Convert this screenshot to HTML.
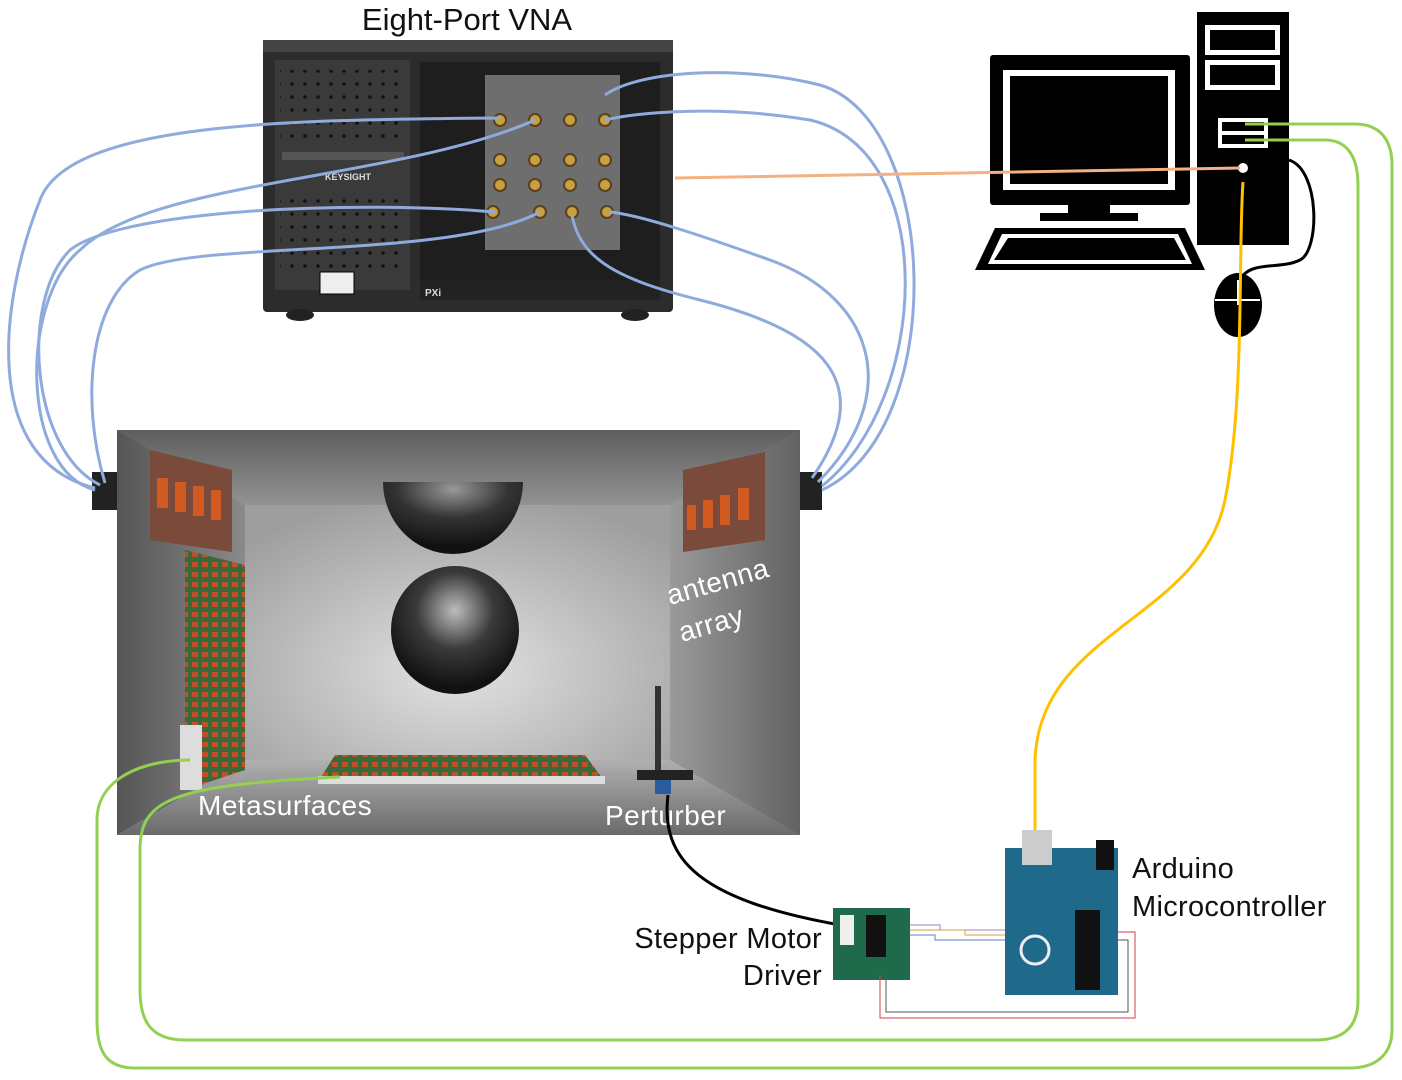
<!DOCTYPE html>
<html><head><meta charset="utf-8"><style>
html,body{margin:0;padding:0;background:#fff;}
svg{display:block;font-family:"Liberation Sans",sans-serif;}
</style></head><body>
<svg width="1402" height="1080" viewBox="0 0 1402 1080" xmlns="http://www.w3.org/2000/svg">
<defs>
<linearGradient id="ceil" x1="0" y1="0" x2="0" y2="1"><stop offset="0" stop-color="#5e5e5e"/><stop offset="1" stop-color="#929292"/></linearGradient>
<linearGradient id="lw" x1="0" y1="0" x2="1" y2="0"><stop offset="0" stop-color="#555"/><stop offset="1" stop-color="#8a8a8a"/></linearGradient>
<linearGradient id="rw" x1="1" y1="0" x2="0" y2="0"><stop offset="0" stop-color="#626262"/><stop offset="1" stop-color="#9a9a9a"/></linearGradient>
<linearGradient id="fl" x1="0" y1="0" x2="0" y2="1"><stop offset="0" stop-color="#b0b0b0"/><stop offset="1" stop-color="#6a6a6a"/></linearGradient>
<radialGradient id="bw" cx="0.5" cy="0.65" r="0.7"><stop offset="0" stop-color="#e2e2e2"/><stop offset="1" stop-color="#9e9e9e"/></radialGradient>
<radialGradient id="sph" cx="0.5" cy="0.35" r="0.6"><stop offset="0" stop-color="#bdbdbd"/><stop offset="0.5" stop-color="#3a3a3a"/><stop offset="1" stop-color="#111"/></radialGradient>
<radialGradient id="hem" cx="0.5" cy="0.1" r="0.8"><stop offset="0" stop-color="#999"/><stop offset="0.5" stop-color="#333"/><stop offset="1" stop-color="#111"/></radialGradient>
<pattern id="dots" width="13" height="13" patternUnits="userSpaceOnUse"><circle cx="6" cy="6" r="1.8" fill="#111"/></pattern>
<pattern id="cells" width="10" height="10" patternUnits="userSpaceOnUse"><rect width="10" height="10" fill="#3a6a3a"/><rect x="2" y="2" width="6" height="5" fill="#c0502a"/></pattern>
</defs>

<text x="467" y="30" font-size="31" text-anchor="middle" fill="#111">Eight-Port VNA</text>

<!-- VNA -->
<rect x="263" y="40" width="410" height="272" rx="4" fill="#2c2c2c"/>
<rect x="263" y="40" width="410" height="12" fill="#444"/>
<rect x="275" y="60" width="135" height="230" fill="#3a3a3a"/>
<rect x="280" y="70" width="125" height="75" fill="url(#dots)"/>
<rect x="280" y="190" width="125" height="85" fill="url(#dots)"/>
<rect x="282" y="152" width="122" height="8" fill="#555"/>
<text x="325" y="180" font-size="9" fill="#ddd" font-weight="bold">KEYSIGHT</text>
<rect x="320" y="272" width="34" height="22" fill="#eee" stroke="#000"/>
<rect x="420" y="62" width="240" height="238" fill="#1e1e1e"/>
<rect x="485" y="75" width="135" height="175" fill="#6e6e6e"/>
<rect x="420" y="280" width="240" height="20" fill="#222"/>
<text x="425" y="296" font-size="10" fill="#ddd" font-weight="bold">PXi</text>
<g fill="#c9a040" stroke="#5a4020" stroke-width="2">
<circle cx="500" cy="120" r="6"/><circle cx="535" cy="120" r="6"/><circle cx="570" cy="120" r="6"/><circle cx="605" cy="120" r="6"/>
<circle cx="500" cy="160" r="6"/><circle cx="535" cy="160" r="6"/><circle cx="570" cy="160" r="6"/><circle cx="605" cy="160" r="6"/>
<circle cx="500" cy="185" r="6"/><circle cx="535" cy="185" r="6"/><circle cx="570" cy="185" r="6"/><circle cx="605" cy="185" r="6"/>
<circle cx="493" cy="212" r="6"/><circle cx="540" cy="212" r="6"/><circle cx="572" cy="212" r="6"/><circle cx="607" cy="212" r="6"/>
</g>
<ellipse cx="300" cy="315" rx="14" ry="6" fill="#222"/><ellipse cx="635" cy="315" rx="14" ry="6" fill="#222"/>

<!-- Computer -->
<rect x="990" y="55" width="200" height="150" rx="3" fill="#000"/>
<rect x="1003" y="70" width="172" height="120" fill="#fff"/>
<rect x="1010" y="76" width="158" height="108" fill="#000"/>
<rect x="1068" y="205" width="42" height="8" fill="#000"/>
<rect x="1040" y="213" width="98" height="8" fill="#000"/>
<polygon points="995,228 1185,228 1205,270 975,270" fill="#000"/>
<polygon points="1002,234 1178,234 1192,264 988,264" fill="#fff"/>
<polygon points="1008,238 1174,238 1186,260 994,260" fill="#000"/>
<rect x="1197" y="12" width="92" height="233" fill="#000"/>
<rect x="1205" y="25" width="75" height="30" fill="#fff"/><rect x="1210" y="30" width="65" height="20" fill="#000"/>
<rect x="1205" y="60" width="75" height="30" fill="#fff"/><rect x="1210" y="65" width="65" height="20" fill="#000"/>
<rect x="1218" y="118" width="50" height="30" fill="#fff"/><rect x="1222" y="122" width="42" height="9" fill="#000"/><rect x="1222" y="135" width="42" height="9" fill="#000"/>
<circle cx="1243" cy="168" r="5" fill="#fff"/>
<path d="M1289 160 C1320 170 1320 250 1300 260 C1280 270 1250 260 1240 280" stroke="#000" stroke-width="3" fill="none"/>
<ellipse cx="1238" cy="305" rx="24" ry="32" fill="#000"/>
<line x1="1238" y1="280" x2="1238" y2="305" stroke="#fff" stroke-width="2"/>
<line x1="1215" y1="300" x2="1260" y2="300" stroke="#fff" stroke-width="2"/>

<!-- Chamber -->
<rect x="117" y="430" width="683" height="405" fill="#8c8c8c"/>
<polygon points="117,430 800,430 670,505 245,505" fill="url(#ceil)"/>
<polygon points="117,430 245,505 245,760 117,835" fill="url(#lw)"/>
<polygon points="800,430 670,505 670,760 800,835" fill="url(#rw)"/>
<polygon points="245,760 670,760 800,835 117,835" fill="url(#fl)"/>
<rect x="245" y="505" width="425" height="255" fill="url(#bw)"/>
<path d="M383 482 A70 72 0 0 0 523 482 Z" fill="url(#hem)"/>
<circle cx="455" cy="630" r="64" fill="url(#sph)"/>
<polygon points="150,450 232,470 232,552 150,540" fill="#7a4a3a"/>
<g fill="#d05a20"><rect x="157" y="478" width="11" height="30"/><rect x="175" y="482" width="11" height="30"/><rect x="193" y="486" width="11" height="30"/><rect x="211" y="490" width="10" height="30"/></g>
<polygon points="683,470 765,452 765,540 683,552" fill="#7a4a3a"/>
<g fill="#d05a20"><rect x="687" y="505" width="9" height="25"/><rect x="703" y="500" width="10" height="28"/><rect x="720" y="495" width="10" height="30"/><rect x="738" y="488" width="11" height="32"/></g>
<polygon points="185,550 245,565 245,770 185,790" fill="url(#cells)"/>
<rect x="180" y="725" width="22" height="65" fill="#ddd"/>
<polygon points="335,755 585,755 605,782 318,782" fill="url(#cells)"/>
<polygon points="318,776 605,776 605,784 318,784" fill="#ddd"/>
<rect x="655" y="686" width="6" height="90" fill="#333"/>
<rect x="637" y="770" width="56" height="10" fill="#222"/>
<rect x="655" y="780" width="16" height="14" fill="#2a5aa0"/>
<rect x="92" y="472" width="25" height="38" fill="#222"/>
<rect x="800" y="472" width="22" height="38" fill="#222"/>

<g fill="#fff" font-size="28" letter-spacing="0.5">
<text x="198" y="815">Metasurfaces</text>
<text x="605" y="825">Perturber</text>
<text transform="translate(670,605) rotate(-16)">antenna</text>
<text transform="translate(682,642) rotate(-16)">array</text>
</g>

<!-- cables -->
<g stroke="#8faadc" stroke-width="3" fill="none">
<path d="M95 488 C-20 460 0 300 40 200 C70 120 300 120 500 118"/>
<path d="M95 490 C20 470 20 300 80 250 C150 180 400 180 535 120"/>
<path d="M100 485 C30 450 20 300 70 250 C120 210 350 200 495 212"/>
<path d="M105 483 C80 400 90 300 140 270 C200 240 450 260 540 212"/>
<path d="M822 490 C950 430 940 120 820 85 C740 65 640 70 605 95"/>
<path d="M822 486 C930 400 940 150 810 120 C720 105 640 112 605 120"/>
<path d="M818 482 C900 400 880 300 770 260 C700 235 640 215 610 212"/>
<path d="M812 478 C880 380 820 330 700 300 C620 280 580 260 572 215"/>
</g>
<line x1="675" y1="178" x2="1240" y2="168" stroke="#f4b183" stroke-width="3"/>
<path d="M1243 182 C1238 250 1245 400 1225 500 C1200 620 1040 630 1035 760 L1035 832" stroke="#ffc000" stroke-width="3" fill="none"/>
<g stroke="#92d050" stroke-width="3" fill="none">
<path d="M1245 124 L1355 124 C1380 124 1392 140 1392 165 L1392 1030 C1392 1055 1375 1068 1350 1068 L135 1068 C105 1068 97 1050 97 1020 L97 820 C97 780 140 760 190 760"/>
<path d="M1245 140 L1325 140 C1348 140 1358 158 1358 185 L1358 1000 C1358 1030 1340 1040 1315 1040 L185 1040 C150 1040 140 1020 140 990 L140 850 C140 800 170 785 340 777"/>
</g>
<path d="M668 795 C660 860 700 900 840 925" stroke="#000" stroke-width="3" fill="none"/>

<rect x="833" y="908" width="77" height="72" fill="#1f6a4a"/>
<rect x="866" y="915" width="20" height="42" fill="#111"/>
<rect x="840" y="915" width="14" height="30" fill="#eee"/>
<g stroke-width="1" fill="none">
<path d="M910 925 L940 925 L940 930 L1005 930" stroke="#a080c0"/>
<path d="M910 930 L965 930 L965 935 L1005 935" stroke="#d0a040"/>
<path d="M910 935 L935 935 L935 940 L1005 940" stroke="#6080c0"/>
<path d="M880 975 L880 1018 L1135 1018 L1135 932 L1118 932" stroke="#d04040"/>
<path d="M886 975 L886 1012 L1128 1012 L1128 940 L1118 940" stroke="#555"/>
</g>
<rect x="1005" y="848" width="113" height="147" fill="#1f6a8a"/>
<rect x="1022" y="830" width="30" height="35" fill="#ccc"/>
<rect x="1096" y="840" width="18" height="30" fill="#111"/>
<rect x="1075" y="910" width="25" height="80" fill="#111"/>
<circle cx="1035" cy="950" r="14" fill="none" stroke="#eee" stroke-width="3"/>

<g fill="#111" font-size="29" letter-spacing="0.3">
<text x="822" y="948" text-anchor="end">Stepper Motor</text>
<text x="822" y="985" text-anchor="end">Driver</text>
<text x="1132" y="878">Arduino</text>
<text x="1132" y="916">Microcontroller</text>
</g>
</svg>
</body></html>
